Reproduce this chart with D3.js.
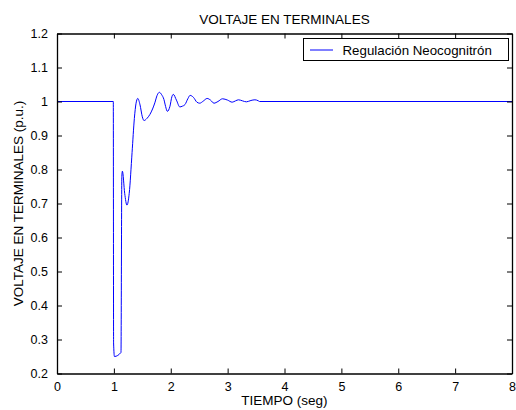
<!DOCTYPE html>
<html><head><meta charset="utf-8">
<script src="https://cdn.jsdelivr.net/npm/d3@7"></script>
<style>body{margin:0;background:#fff}svg{display:block}text{font-family:Arial,"Liberation Sans",sans-serif;fill:#000}</style>
</head><body><svg id="c" width="516" height="410"></svg>
<script>
const title = "VOLTAJE EN TERMINALES";
const xLabel = "TIEMPO (seg)";
const yLabel = "VOLTAJE EN TERMINALES (p.u.)";
const seriesName = "Regulación Neocognitrón";
const xTicks = [0,1,2,3,4,5,6,7,8];
const yTicks = [0.2,0.3,0.4,0.5,0.6,0.7,0.8,0.9,1,1.1,1.2];
const time = [0,0.99,0.995,1.01,1.125,1.14,1.15,1.19,1.23,1.27,1.32,1.36,1.39,1.42,1.46,1.50,1.53,1.58,1.634,1.68,1.72,1.76,1.80,1.84,1.88,1.91,1.94,1.986,2.02,2.045,2.10,2.16,2.20,2.25,2.30,2.34,2.40,2.46,2.51,2.57,2.64,2.70,2.76,2.83,2.91,3.00,3.08,3.14,3.19,3.26,3.33,3.41,3.48,3.54,3.56,8];
const volt = [1.0,1.0,0.29,0.25,0.262,0.78,0.795,0.73,0.695,0.73,0.85,0.95,0.995,1.009,0.99,0.955,0.944,0.950,0.962,0.978,0.996,1.018,1.027,1.020,1.006,0.985,0.971,0.986,1.014,1.021,1.004,0.984,0.986,0.991,1.008,1.018,1.012,0.998,0.995,1.001,1.009,1.004,0.995,1.0,1.008,1.004,0.998,1.002,1.005,1.002,0.999,1.003,1.005,1.002,1.0,1.0];

const svg = d3.select("#c");
const L=57, R=512, T=33.5, B=373.5;
const x = d3.scaleLinear().domain([0,8]).range([L,R]);
const y = d3.scaleLinear().domain([0.2,1.2]).range([B,T]);

svg.append("rect").attr("x",L).attr("y",T).attr("width",R-L).attr("height",B-T).attr("fill","#fff");

const data = time.map((t,i)=>[t,volt[i]]);
svg.append("path").datum(data)
  .attr("fill","none").attr("stroke","#0000ff").attr("stroke-width",1)
  .attr("d", d3.line().x(d=>x(d[0])).y(d=>y(d[1])).curve(d3.curveMonotoneX));

const fmt = d=> d3.format("")(+d.toFixed(1));
const tick = 5;
const gB = svg.append("g").attr("transform",`translate(0,${B})`)
  .call(d3.axisBottom(x).tickValues(xTicks).tickSizeInner(-tick).tickSizeOuter(0).tickPadding(9).tickFormat(d3.format("d")));
const gT = svg.append("g").attr("transform",`translate(0,${T})`)
  .call(d3.axisTop(x).tickValues(xTicks).tickSizeInner(-tick).tickSizeOuter(0).tickFormat(""));
const gL = svg.append("g").attr("transform",`translate(${L},0)`)
  .call(d3.axisLeft(y).tickValues(yTicks).tickSizeInner(-tick).tickSizeOuter(0).tickPadding(9).tickFormat(fmt));
const gR = svg.append("g").attr("transform",`translate(${R},0)`)
  .call(d3.axisRight(y).tickValues(yTicks).tickSizeInner(-tick).tickSizeOuter(0).tickFormat(""));
svg.selectAll(".domain").attr("stroke","#000").attr("stroke-width",1.3);
svg.selectAll(".tick line").attr("stroke","#000");
svg.selectAll(".tick text").attr("font-size",12.5).attr("font-family","Arial, 'Liberation Sans', sans-serif").attr("fill","#000");

svg.append("text").attr("x",(L+R)/2).attr("y",24).attr("text-anchor","middle").attr("font-size",13.5).text(title);
svg.append("text").attr("x",(L+R)/2).attr("y",405).attr("text-anchor","middle").attr("font-size",13.5).text(xLabel);
svg.append("text").attr("transform",`translate(23,${(T+B)/2}) rotate(-90)`).attr("text-anchor","middle").attr("font-size",13.5).text(yLabel);

const lg = svg.append("g");
lg.append("rect").attr("x",303.5).attr("y",38.5).attr("width",205).attr("height",22).attr("fill","#fff").attr("stroke","#000").attr("stroke-width",1);
lg.append("line").attr("x1",310).attr("x2",333).attr("y1",50).attr("y2",50).attr("stroke","#0000ff").attr("stroke-width",1);
lg.append("text").attr("x",342.5).attr("y",55).attr("font-size",13.3).text(seriesName);
</script></body></html>
